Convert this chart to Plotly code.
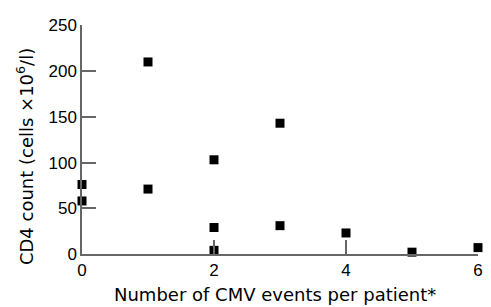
import plotly.graph_objects as go

x_vals = [0, 0, 1, 1, 2, 2, 2, 3, 3, 4, 5, 6]
cd4_vals = [76, 58, 210, 71, 103, 29, 4, 143, 31, 23, 2, 7]
x_ticks = [0, 2, 4, 6]
y_ticks = [0, 50, 100, 150, 200, 250]
x_title = "Number of CMV events per patient*"
y_title = "CD4 count (cells \u00d710<sup>6</sup>/l)"

fig = go.Figure()
fig.add_trace(go.Scatter(
    x=x_vals, y=cd4_vals, mode="markers",
    marker=dict(symbol="square", size=9, color="black", line=dict(width=0)),
    cliponaxis=False, showlegend=False,
))

tick_font = dict(family="Liberation Sans, Arial", size=17, color="black")
title_font = dict(family="DejaVu Sans", size=18, color="black")
axis_common = dict(
    showgrid=False, zeroline=False, showline=True, linecolor="#666", linewidth=1.5,
    ticks="inside", ticklen=14, tickwidth=1.5, tickcolor="#666",
    tickfont=tick_font,
)
fig.update_xaxes(range=[0, 6], tickvals=x_ticks, **axis_common)
fig.update_yaxes(range=[0, 250.4], tickvals=y_ticks, **axis_common)

# page body has an 8px margin; figure is placed at (8, 8)
W, H = 483, 299
L, T = 82 - 8, 17 - 8
R = 8
B = 307 - 254
fig.update_layout(
    width=W, height=H,
    margin=dict(l=L, r=R, t=T, b=B),
    plot_bgcolor="white", paper_bgcolor="white",
    annotations=[
        dict(text=x_title, xref="paper", yref="paper",
             x=(277 - 8 - L) / (W - L - R), y=-(296 - 254) / (H - T - B),
             xanchor="center", yanchor="middle", showarrow=False, font=title_font),
        dict(text=y_title, xref="paper", yref="paper", textangle=-90,
             x=-(82 - 25) / (W - L - R), y=(254 - 153) / (H - T - B),
             xanchor="center", yanchor="middle", showarrow=False, font=title_font),
    ],
)
fig.write_html("out.html")
